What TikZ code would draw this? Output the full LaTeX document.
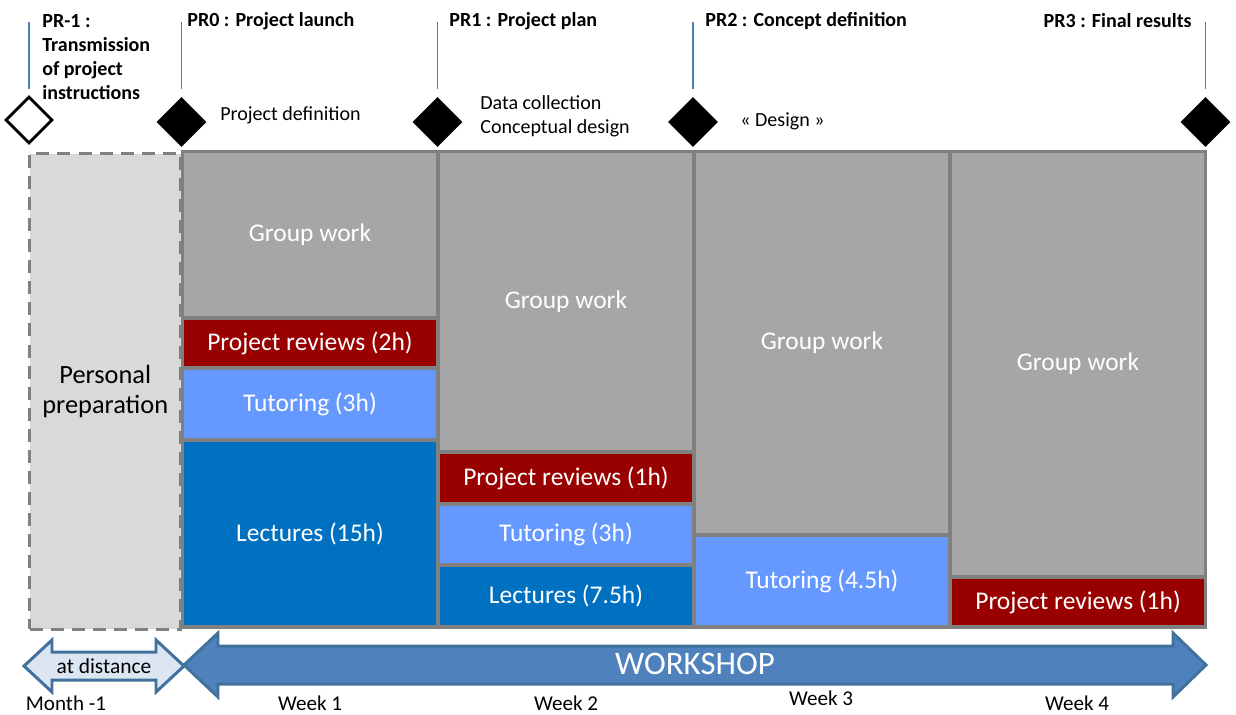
\documentclass[tikz,border=0pt]{standalone}
\usepackage{fontspec}
\setmainfont{Carlito}
\usepackage{tikz}
\usetikzlibrary{shapes.geometric,positioning}
\definecolor{framegray}{HTML}{808080}
\definecolor{workgray}{HTML}{A6A6A6}
\definecolor{prepgray}{HTML}{D9D9D9}
\definecolor{reviewred}{HTML}{990000}
\definecolor{tutorblue}{HTML}{6699FF}
\definecolor{lectureblue}{HTML}{0070C0}
\definecolor{tickblue}{HTML}{4A7EBB}
\definecolor{arrowedge}{HTML}{41719C}
\definecolor{arrowfill}{HTML}{4F81BD}
\definecolor{distfill}{HTML}{DCE6F2}
\tikzstyle{cell} = [rectangle, inner sep=0pt, minimum width=5.04cm, text=white, font=\fontsize{14.5}{17}\selectfont]
\tikzstyle{groupwork} = [cell, fill=workgray]
\tikzstyle{review} = [cell, fill=reviewred]
\tikzstyle{tutoring} = [cell, fill=tutorblue]
\tikzstyle{lecture} = [cell, fill=lectureblue]
\tikzstyle{milestone} = [diamond, inner sep=0pt, minimum width=1cm, minimum height=1cm, fill=black]
\tikzstyle{prtitle} = [inner sep=0pt, align=left, font=\fontsize{11.4}{13.7}\selectfont\bfseries]
\tikzstyle{phase} = [inner sep=0pt, align=left, font=\fontsize{11.4}{13.7}\selectfont]
\tikzstyle{weeklabel} = [inner sep=0pt, font=\fontsize{12}{14}\selectfont]
\tikzstyle{tick} = [tickblue, line width=1pt]
\tikzstyle{bigarrow} = [draw=arrowedge, line width=1.7pt, line join=miter]

\begin{document}
\begin{tikzpicture}[x=0.02cm, y=-0.02cm]
\useasboundingbox (0,0) rectangle (1236,714);
% personal preparation and the workshop frame
\node[draw=framegray, fill=prepgray, line width=1.7pt, dash pattern=on 7.4pt off 4.6pt,
      minimum width=3.03cm, minimum height=9.52cm, inner sep=0pt, align=center,
      font=\fontsize{15}{17.6}\selectfont] (prep) at (105.25,391.5) {Personal\\preparation};
\node[fill=framegray, minimum width=20.52cm, minimum height=9.58cm, inner sep=0pt] (frame) at (694,389.5) {};
% week 1
\node[groupwork, minimum height=3.26cm] (gw1) at (310,234.5) {Group work};
\node[review, minimum height=0.92cm] (rev1) at (310,343) {Project reviews (2h)};
\node[tutoring, minimum height=1.36cm] (tut1) at (310,404) {Tutoring (3h)};
\node[lecture, minimum height=3.66cm] (lec1) at (310,533.5) {Lectures (15h)};
% week 2
\node[groupwork, minimum height=5.94cm] (gw2) at (566,301.5) {Group work};
\node[review, minimum height=0.96cm] (rev2) at (566,478) {Project reviews (1h)};
\node[tutoring, minimum height=1.14cm] (tut2) at (566,534.5) {Tutoring (3h)};
\node[lecture, minimum height=1.16cm] (lec2) at (566,596) {Lectures (7.5h)};
% week 3
\node[groupwork, minimum height=7.6cm] (gw3) at (822,343) {Group work};
\node[tutoring, minimum height=1.76cm] (tut3) at (822,581) {Tutoring (4.5h)};
% week 4
\node[groupwork, minimum height=8.44cm] (gw4) at (1078,364) {Group work};
\node[review, minimum height=0.92cm] (rev4) at (1078,602) {Project reviews (1h)};

% milestones
\node[milestone, fill=white, draw=black, line width=1.7pt, minimum width=0.94cm, minimum height=0.94cm] (m0) at (29,120) {};
\node[milestone] (m1) at (181.5,122) {};
\node[milestone] (m2) at (437.5,122) {};
\node[milestone] (m3) at (693,122) {};
\node[milestone] (m4) at (1205.5,122) {};
\draw[tick] (m0.north) ++(0,-6) -- ++(0,-67);
\draw[tick] (m1.north) ++(0,-8) -- ++(0,-67);
\draw[tick] (m2.north) ++(0,-8) -- ++(0,-67);
\draw[tick] (m3.north) ++(0,-8) -- ++(0,-67);
\draw[tick] (m4.north) ++(0,-8) -- ++(0,-67);

\node[prtitle, anchor=north west] (pr-1) at (42,14) {PR-1 :\\Transmission\\of project\\instructions};
\node[prtitle, anchor=west] (pr0) at (187,21) {PR0 : Project launch};
\node[prtitle, anchor=west] (pr1) at (449,21) {PR1 : Project plan};
\node[prtitle, anchor=west] (pr2) at (705,21) {PR2 : Concept definition};
\node[prtitle, anchor=east] (pr3) at (1192,21) {PR3 : Final results};
\node[phase, anchor=west] (def) at (220,115) {Project definition};
\node[phase, anchor=west] (data) at (480,116) {Data collection\\Conceptual design};
\node[phase, anchor=west] (design) at (740,121) {« Design »};

% time line
\draw[bigarrow, fill=distfill] (24,666) -- (52,640) -- (52,652) -- (156,652) -- (156,640) -- (184,666)
   -- (156,692) -- (156,680) -- (52,680) -- (52,692) -- cycle;
\draw[bigarrow, fill=arrowfill] (184,665) -- (218,633) -- (218,646) -- (1173,646) -- (1173,633) -- (1206,665)
   -- (1173,697) -- (1173,684) -- (218,684) -- (218,697) -- cycle;
\node[weeklabel, font=\fontsize{12.2}{14}\selectfont] (dist) at (104,666) {at distance};
\node[inner sep=0pt, text=white, font=\fontsize{18.7}{22}\selectfont] (workshop) at (695,664) {WORKSHOP};
\node[weeklabel] (month) at (66,703) {Month -1};
\node[weeklabel] (week1) at (310,703) {Week 1};
\node[weeklabel] (week2) at (566,703) {Week 2};
\node[weeklabel] (week3) at (821,698) {Week 3};
\node[weeklabel] (week4) at (1077,703) {Week 4};
\end{tikzpicture}
\end{document}
